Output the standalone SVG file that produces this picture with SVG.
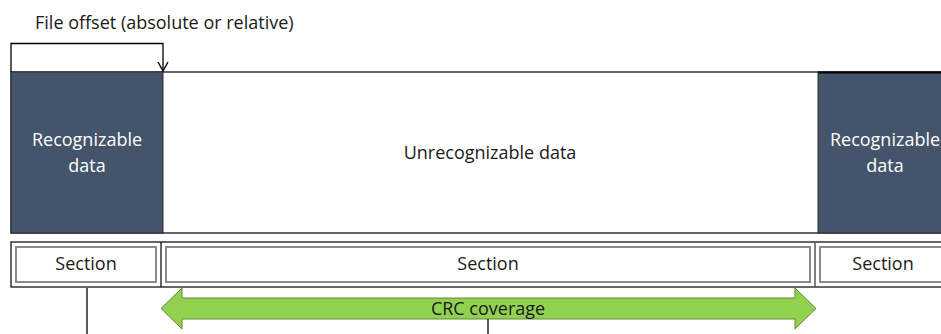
<svg xmlns="http://www.w3.org/2000/svg" width="941" height="334" viewBox="0 0 941 334">
  <style>
    text { font-family: "Open Sans", "Liberation Sans", sans-serif; }
    .lbl { font-size: 18px; fill: #1a1a1a; }
    .dark { fill: #44546A; stroke: #2b2b2b; stroke-width: 1; }
    .light { font-size: 18px; fill: #ffffff; text-anchor: middle; }
    .mid { text-anchor: middle; }
    .line { stroke: #000; stroke-width: 1.3; fill: none; }
    .inner { fill: #ffffff; stroke: #8a8a8a; stroke-width: 2; }
    .arrow { fill: #92D050; stroke: #5e8a34; stroke-width: 1; }
  </style>
  <defs>
    <marker id="tip" viewBox="0 0 12 12" refX="11" refY="6" markerWidth="12" markerHeight="12" markerUnits="userSpaceOnUse" orient="auto-start-reverse">
      <path d="M2,1 L11,6 L2,11" fill="none" stroke="#000" stroke-width="1.4"/>
    </marker>
  </defs>

  <rect x="0" y="0" width="941" height="334" fill="#ffffff"/>

  <!-- file offset label -->
  <g id="offset">
    <text class="lbl" x="35" y="29">File offset (absolute or relative)</text>
  </g>

  <!-- data strip -->
  <g id="strip">
    <rect x="11" y="72" width="940" height="161" fill="#ffffff" stroke="#000" stroke-width="1.2"/>
  </g>
  <g id="rec-left">
    <rect class="dark" x="11" y="72" width="152" height="161"/>
    <text class="light" x="87" y="146">Recognizable</text>
    <text class="light" x="87" y="172">data</text>
  </g>
  <g id="unrec">
    <text class="lbl mid" x="490" y="159">Unrecognizable data</text>
  </g>
  <g id="rec-right">
    <rect class="dark" x="818" y="72" width="140" height="161"/>
    <line x1="818" y1="72.5" x2="941" y2="72.5" stroke="#000" stroke-width="2"/>
    <text class="light" x="885" y="146">Recognizable</text>
    <text class="light" x="885" y="172">data</text>
  </g>

  <!-- section row -->
  <g id="section-row">
    <rect x="11" y="242" width="940" height="45" fill="#ffffff" stroke="#000" stroke-width="1.2"/>
    <line x1="161" y1="242" x2="161" y2="287" stroke="#000" stroke-width="1.2"/>
    <line x1="815" y1="242" x2="815" y2="287" stroke="#555" stroke-width="1.5"/>
  </g>
  <g id="section-1">
    <rect class="inner" x="16" y="247" width="140" height="35"/>
    <text class="lbl mid" x="86" y="270">Section</text>
  </g>
  <g id="section-2">
    <rect class="inner" x="166" y="247" width="644" height="35"/>
    <text class="lbl mid" x="488" y="270">Section</text>
  </g>
  <g id="section-3">
    <rect class="inner" x="820" y="247" width="130" height="35"/>
    <text class="lbl mid" x="883" y="270">Section</text>
  </g>

  <!-- CRC coverage -->
  <g id="crc">
    <path class="arrow" d="M161,308.5 L182,288 L182,298 L795,298 L795,288 L816,308.5 L795,329 L795,319 L182,319 L182,329 Z"/>
    <text class="lbl mid" x="488" y="314.5">CRC coverage</text>
  </g>

  <!-- connectors -->
  <g id="connectors">
    <path class="line" d="M11,72 L11,43.5 L163,43.5 L163,71" marker-end="url(#tip)"/>
    <line class="line" x1="87" y1="288" x2="87" y2="334"/>
    <line class="line" x1="488" y1="319" x2="488" y2="334"/>
  </g>
</svg>
